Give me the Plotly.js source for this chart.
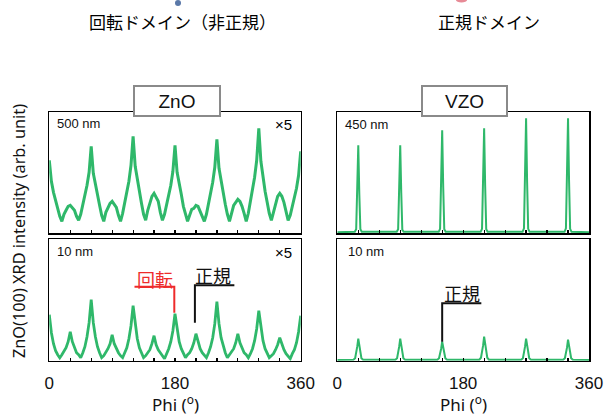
<!DOCTYPE html>
<html>
<head>
<meta charset="utf-8">
<script src="https://cdn.plot.ly/plotly-3.0.1.min.js"></script>
<style>html,body{margin:0;padding:0;background:#fff;}#chart{width:606px;height:416px;}</style>
</head>
<body>
<div id="chart"></div>
<script>
// ---------------- data ----------------
const phiGrid = [0,3,6,9,12,15,18,21,24,27,30,33,36,39,42,45,48,51,54,57,
  60,63,66,69,72,75,78,81,84,87,90,93,96,99,102,105,108,111,114,117,
  120,123,126,129,132,135,138,141,144,147,150,153,156,159,162,165,168,171,174,177,
  180,183,186,189,192,195,198,201,204,207,210,213,216,219,222,225,228,231,234,237,
  240,243,246,249,252,255,258,261,264,267,270,273,276,279,282,285,288,291,294,297,
  300,303,306,309,312,315,318,321,324,327,330,333,336,339,342,345,348,351,354,357,360];

const zno500 = [73,52,41,32,25,17,12,19,23,27,28,26,23,17,13,19,28,38,48,61,
  87,60,49,36,28,18,12,21,25,30,32,29,26,18,12,20,30,41,52,68,
  97,67,53,40,30,19,13,23,31,37,40,36,32,21,13,19,28,38,48,62,
  88,61,48,39,27,19,12,18,24,25,28,27,22,18,12,19,29,40,51,66,
  94,65,52,40,29,19,12,20,28,31,34,32,27,20,12,20,31,43,56,73,
  105,72,56,42,31,20,13,22,31,37,40,37,31,22,13,18,27,36,45,58,82];

const zno10 = [46,28,17,10,6,3,6,9,13,19,29,19,13,8,6,3,8,14,24,38,
  61,38,24,14,8,3,5,8,12,17,26,17,12,8,5,3,8,13,22,35,
  55,35,22,13,7,3,5,8,11,17,25,16,11,8,5,2,7,12,19,30,
  47,30,19,12,7,3,6,8,12,18,27,18,12,8,6,3,8,14,23,37,
  59,37,23,14,8,3,6,8,12,18,27,18,12,8,6,3,7,12,20,32,
  50,32,20,12,7,3,5,7,11,16,23,16,11,7,5,2,7,11,18,29,45];

const vzo450Phi = [0,25,27,28.5,30,31.5,33,35, 85,87,88.5,90,91.5,93,95,
  145,147,148.5,150,151.5,153,155, 205,207,208.5,210,211.5,213,215,
  265,267,268.5,270,271.5,273,275, 325,327,328.5,330,331.5,333,335, 360];
const vzo450 = [1, 1.5,4,40,88,39,4,1.5, 1.5,4,39,88,40,3.5,1.5,
  1.5,4.5,46,103,46,4,1.5, 1.5,4.5,47,105,47,4,1.5,
  1.5,5,52,115,51,4.5,1.5, 1.5,5,51,115,52,4.5,1.5, 1];

const vzo10Phi = [0, 23,25.5,27,28.5,30,31.5,33,34.5,37, 83,85.5,87,88.5,90,91.5,93,94.5,97,
  143,145.5,147,148.5,150,151.5,153,154.5,157, 203,205.5,207,208.5,210,211.5,213,214.5,217,
  263,265.5,267,268.5,270,271.5,273,274.5,277, 323,325.5,327,328.5,330,331.5,333,334.5,337, 360];
const vzo10 = [0.7, 1,2.5,7,14,22,14,7,2.5,1, 1,2.5,7,14,22,14,7,2.5,1,
  1,2.5,6,12,19,12,6,2.5,1, 1,3,8,15,24,15,8,3,1,
  1,2.5,7,14,22,14,7,2.5,1, 1,2.5,7,13,21,13,7,2.5,1, 0.7];

const xTickVals = [0,180,360];
const panelLabels = ['500 nm','450 nm','10 nm','10 nm'];
const materials = ['ZnO','VZO'];
const headTitles = ['回転ドメイン（非正規）','正規ドメイン'];

// ---------------- plot ----------------
const green = '#2fb86a';
const traces = [
  {x: phiGrid, y: zno500, xaxis:'x', yaxis:'y', type:'scatter', mode:'lines', line:{color:green,width:3}},
  {x: vzo450Phi, y: vzo450, xaxis:'x2', yaxis:'y2', type:'scatter', mode:'lines', line:{color:green,width:2}},
  {x: phiGrid, y: zno10, xaxis:'x3', yaxis:'y3', type:'scatter', mode:'lines', line:{color:green,width:2.8}},
  {x: vzo10Phi, y: vzo10, xaxis:'x4', yaxis:'y4', type:'scatter', mode:'lines', line:{color:green,width:2}}
];

const W = 606, H = 416;
const px = v => v / W;
const py = v => (H - v) / H;

const tickFont = {family:'Liberation Sans, Arial, sans-serif', size:17, color:'#111'};
function xax(dom, anchor, labels) {
  return {domain:dom, anchor:anchor, range:[0,360], showline:true, mirror:true, linecolor:'#000', linewidth:1.5,
    zeroline:false, showgrid:false, ticks:'inside', ticklen:3, tickwidth:1.2, tickcolor:'#000',
    tickvals:xTickVals, ticktext:xTickVals.map(String), showticklabels:labels, tickfont:tickFont, ticklabelstandoff:6,
    minor:{dtick:30, tick0:0, ticks:'inside', ticklen:3, tickwidth:1.2, tickcolor:'#000'}, fixedrange:true};
}
function yax(dom, anchor, top) {
  return {domain:dom, anchor:anchor, range:[0,top], showline:true, mirror:true, linecolor:'#000', linewidth:1.5,
    zeroline:false, showgrid:false, ticks:'', showticklabels:false, fixedrange:true};
}
const dxL = [px(49.3), px(300.7)], dxR = [px(337.3), px(589)];
const dyT = [py(233.3), py(112)], dyB = [py(360.7), py(239.3)];

const smallFont = {family:'Liberation Sans, Arial, sans-serif', size:13, color:'#111'};
const jp = 'Noto Sans CJK JP, sans-serif';

const annotations = [
  // header titles
  {xref:'paper', yref:'paper', x:px(182), y:py(21), text:headTitles[0], showarrow:false, xanchor:'center', yanchor:'middle', font:{family:jp, size:17, color:'#000'}},
  {xref:'paper', yref:'paper', x:px(489), y:py(21), text:headTitles[1], showarrow:false, xanchor:'center', yanchor:'middle', font:{family:jp, size:17, color:'#000'}},
  // material boxes
  {xref:'paper', yref:'paper', x:px(176.5), y:py(101), text:materials[0], showarrow:false, xanchor:'center', yanchor:'middle',
    font:{family:'Liberation Sans, Arial, sans-serif', size:19, color:'#111'}, bgcolor:'#fff', bordercolor:'#8a8a8a', borderwidth:2, borderpad:0, width:84, height:28},
  {xref:'paper', yref:'paper', x:px(464), y:py(101), text:materials[1], showarrow:false, xanchor:'center', yanchor:'middle',
    font:{family:'Liberation Sans, Arial, sans-serif', size:19, color:'#111'}, bgcolor:'#fff', bordercolor:'#8a8a8a', borderwidth:2, borderpad:0, width:83, height:28},
  // panel labels
  {xref:'paper', yref:'paper', x:px(55), y:py(123.5), text:panelLabels[0], showarrow:false, xanchor:'left', yanchor:'middle', font:smallFont},
  {xref:'paper', yref:'paper', x:px(343), y:py(124), text:panelLabels[1], showarrow:false, xanchor:'left', yanchor:'middle', font:smallFont},
  {xref:'paper', yref:'paper', x:px(55), y:py(251), text:panelLabels[2], showarrow:false, xanchor:'left', yanchor:'middle', font:smallFont},
  {xref:'paper', yref:'paper', x:px(346), y:py(251), text:panelLabels[3], showarrow:false, xanchor:'left', yanchor:'middle', font:smallFont},
  {xref:'paper', yref:'paper', x:px(294), y:py(124), text:'×5', showarrow:false, xanchor:'right', yanchor:'middle', font:{family:'Liberation Sans, Arial, sans-serif', size:15, color:'#000'}},
  {xref:'paper', yref:'paper', x:px(294), y:py(253), text:'×5', showarrow:false, xanchor:'right', yanchor:'middle', font:{family:'Liberation Sans, Arial, sans-serif', size:15, color:'#000'}},
  // axis titles
  {xref:'paper', yref:'paper', x:px(175), y:py(403), text:'Phi (<sup>o</sup>)', showarrow:false, xanchor:'center', yanchor:'middle', font:{family:'Noto Sans, sans-serif', size:17, color:'#111'}},
  {xref:'paper', yref:'paper', x:px(463), y:py(403), text:'Phi (<sup>o</sup>)', showarrow:false, xanchor:'center', yanchor:'middle', font:{family:'Noto Sans, sans-serif', size:17, color:'#111'}},
  {xref:'paper', yref:'paper', x:px(19), y:py(231), text:'ZnO(100) XRD intensity (arb. unit)', textangle:-90, showarrow:false, xanchor:'center', yanchor:'middle', font:{family:'Noto Sans, sans-serif', size:16.3, color:'#111'}},
  // marker labels
  {xref:'x3', yref:'y3', x:151, y:82, text:'回転', showarrow:false, xanchor:'center', yanchor:'middle', font:{family:jp, size:18, color:'#ee2b2b'}},
  {xref:'x3', yref:'y3', x:235, y:85.5, text:'正規', showarrow:false, xanchor:'center', yanchor:'middle', font:{family:jp, size:18, color:'#111'}},
  {xref:'x4', yref:'y4', x:178, y:67.5, text:'正規', showarrow:false, xanchor:'center', yanchor:'middle', font:{family:jp, size:18, color:'#111'}}
];

const shapes = [
  {type:'path', xref:'x3', yref:'y3', path:'M 122,74 L 179,74 L 179,48', line:{color:'#ee2b2b', width:2}},
  {type:'path', xref:'x3', yref:'y3', path:'M 265,75.5 L 208.5,75.5 L 208.5,38', line:{color:'#111', width:2}},
  {type:'path', xref:'x4', yref:'y4', path:'M 206,57.5 L 150,57.5 L 150,19', line:{color:'#111', width:2}},
  // small fragments of images cropped at the top edge
  {type:'circle', xref:'paper', yref:'paper', x0:px(175), x1:px(181), y0:py(6), y1:py(0), fillcolor:'#5a78a8', line:{width:0}},
  {type:'circle', xref:'paper', yref:'paper', x0:px(456), x1:px(467), y0:py(2.5), y1:py(-2), fillcolor:'rgba(215,60,80,0.6)', line:{width:0}}
];

const layout = {
  width: W, height: H, autosize:false, showlegend:false,
  margin:{l:0, r:0, t:0, b:0, pad:0},
  paper_bgcolor:'#fff', plot_bgcolor:'#fff',
  xaxis: xax(dxL, 'y', false), yaxis: yax(dyT, 'x', 121.3),
  xaxis2: xax(dxR, 'y2', false), yaxis2: yax(dyT, 'x2', 121.3),
  xaxis3: xax(dxL, 'y3', true), yaxis3: yax(dyB, 'x3', 121.4),
  xaxis4: xax(dxR, 'y4', true), yaxis4: yax(dyB, 'x4', 121.4),
  annotations: annotations, shapes: shapes
};

Plotly.newPlot('chart', traces, layout, {displayModeBar:false, staticPlot:true});
</script>
</body>
</html>
